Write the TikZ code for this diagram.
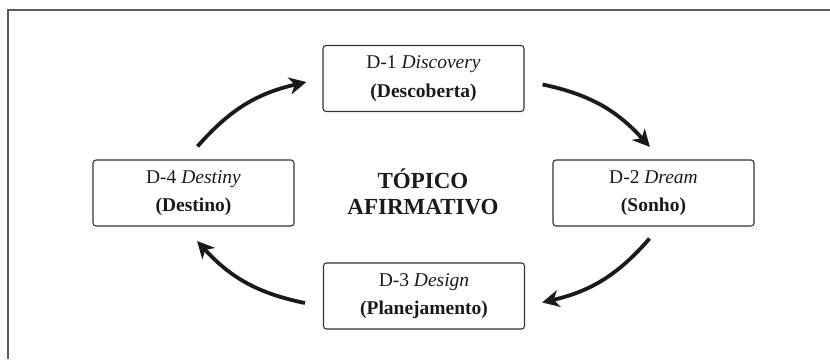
\documentclass[tikz,border=0pt]{standalone}
\usepackage{fontspec}
\setmainfont{Liberation Serif}
\usetikzlibrary{arrows.meta}
\definecolor{framegray}{HTML}{5A5A5A}
\definecolor{boxgray}{HTML}{333333}
\definecolor{ink}{HTML}{1A1A1A}
\tikzset{
  stage/.style={draw=boxgray, line width=1.1pt, rounded corners=3pt,
    minimum width=201pt, minimum height=66pt, align=center, text=ink,
    font=\fontsize{19.5}{28.5}\selectfont, inner sep=0pt},
  centre/.style={align=center, text=ink, font=\fontsize{23}{26.5}\selectfont\bfseries},
  cyclearrow/.style={draw=ink, line width=3.8pt,
    -{Stealth[length=17pt, width=17pt, inset=5pt]}, shorten >=-2pt}
}
\begin{document}
\begin{tikzpicture}[x=1pt, y=1pt]
  \useasboundingbox (0,0) rectangle (830,359);
  % outer frame (left and top edges)
  \draw[framegray, line width=1.6pt] (8,0) |- (830,349);

  % the four stages
  \node[stage] (done)   at (423.5,280.5) {D-1 \textit{Discovery}\\\textbf{(Descoberta)}};
  \node[stage] (dtwo)   at (653.5,166)   {D-2 \textit{Dream}\\\textbf{(Sonho)}};
  \node[stage] (dthree) at (424,63)      {D-3 \textit{Design}\\\textbf{(Planejamento)}};
  \node[stage] (dfour)  at (193.5,166)   {D-4 \textit{Destiny}\\\textbf{(Destino)}};

  % central topic
  \node[centre] (topic) at (423,167) {TÓPICO\\AFIRMATIVO};

  % arrow end points in the gaps between stages
  \coordinate (fourout)  at ([shift={(4,13)}]dfour.north);
  \coordinate (onein)    at ([shift={(-18,-4)}]done.west);
  \coordinate (oneout)   at ([shift={(18,-6)}]done.east);
  \coordinate (twoin)    at ([shift={(-5,14)}]dtwo.north);
  \coordinate (twoout)   at ([shift={(-4,-12)}]dtwo.south);
  \coordinate (threein)  at ([shift={(19,-6)}]dthree.east);
  \coordinate (threeout) at ([shift={(-18,-7)}]dthree.west);
  \coordinate (fourin)   at ([shift={(5,-16)}]dfour.south);

  % the cycle
  \draw[cyclearrow] (fourout)  to[bend left=18] (onein);
  \draw[cyclearrow] (oneout)   to[bend left=18] (twoin);
  \draw[cyclearrow] (twoout)   to[bend left=18] (threein);
  \draw[cyclearrow] (threeout) to[bend left=18] (fourin);
\end{tikzpicture}
\end{document}
